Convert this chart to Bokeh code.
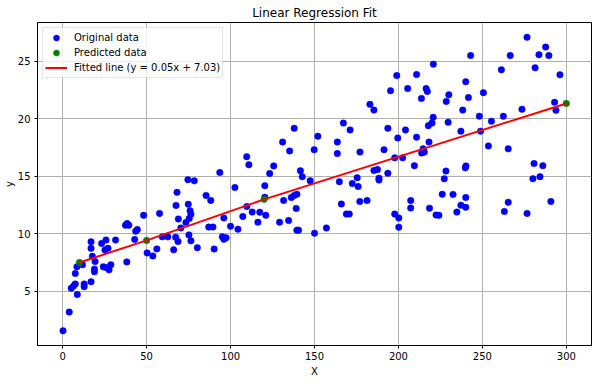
from bokeh.plotting import figure
from bokeh.models import FixedTicker
from bokeh.embed import file_html
from bokeh.resources import INLINE

x_orig = [0.2, 3.9, 5.1, 6.5, 7.5, 7.5, 8.5, 8.7, 11.8, 12.8,
          12.8, 16.9, 16.9, 16.9, 17.7, 19.3, 18.9, 18.9, 24.2, 25.8,
          27.6, 28.7, 23.2, 25.8, 27.0, 25.2, 31.5, 37.4, 39.4, 38.4,
          44.5, 43.5, 42.9, 48.2, 38.2, 50.3, 53.7, 56.1, 57.7, 59.3,
          62.6, 66.1, 67.3, 68.7, 68.1, 67.5, 68.9, 70.4, 74.6, 78.4,
          74.8, 75.9, 76.4, 73.4, 75.4, 75.2, 76.4, 80.2, 85.4, 88.2,
          87.0, 89.5, 90.2, 93.6, 95.1, 96.0, 97.3, 96.0, 100.0, 102.6,
          104.4, 107.3, 109.6, 110.9, 109.7, 112.9, 116.3, 117.4, 121.0, 120.4,
          120.4, 123.3, 125.7, 129.2, 131.0, 131.6, 135.2, 134.6, 137.9, 136.2,
          137.9, 139.5, 139.1, 139.5, 140.5, 141.6, 142.7, 147.4, 149.8, 150.0,
          152.0, 157.1, 163.6, 163.6, 164.8, 167.2, 171.2, 166.0, 169.0, 170.7,
          172.5, 175.4, 176.0, 177.1, 177.0, 181.3, 183.0, 185.4, 185.4, 187.5,
          188.4, 188.4, 191.4, 193.7, 193.7, 195.3, 199.0, 197.8, 199.6, 202.5,
          197.8, 200.2, 200.2, 204.2, 205.5, 209.5, 207.3, 207.3, 210.8, 210.8,
          213.7, 213.8, 214.7, 215.4, 216.5, 217.2, 218.2, 217.8, 220.0, 220.7,
          220.8, 218.5, 222.4, 224.1, 226.1, 227.3, 228.3, 228.5, 230.0, 229.6,
          232.5, 234.8, 237.2, 240.1, 240.1, 237.2, 238.3, 240.1, 241.7, 243.0,
          239.8, 240.2, 248.2, 248.9, 250.6, 253.6, 255.4, 261.3, 262.5, 265.4,
          266.6, 263.1, 265.4, 273.6, 276.6, 276.6, 281.4, 280.8, 286.0, 280.1,
          284.3, 283.7, 289.6, 287.7, 290.8, 293.0, 293.8, 296.2]

y_orig = [1.56, 3.19, 5.26, 5.46, 5.63, 6.55, 7.12, 4.71, 7.3, 5.4,
          5.63, 5.83, 9.3, 8.73, 8.04, 7.58, 6.92, 6.69, 7.12, 7.07,
          6.86, 7.3, 9.16, 9.45, 8.73, 8.59, 9.45, 10.74, 10.74, 10.88,
          10.37, 10.22, 9.5, 11.6, 7.55, 8.33, 8.07, 8.68, 11.77, 9.73,
          9.73, 8.6, 9.7, 9.33, 13.6, 12.46, 11.28, 10.5, 14.7, 14.6,
          12.57, 12.0, 11.7, 10.98, 11.33, 9.9, 9.38, 8.79, 13.33, 12.9,
          10.58, 10.58, 8.67, 15.33, 9.73, 9.52, 9.65, 11.37, 10.65, 14.02,
          10.4, 11.5, 16.7, 16.0, 12.37, 11.88, 11.0, 11.87, 11.6, 13.17,
          14.18, 15.24, 15.9, 11.0, 17.97, 12.9, 17.2, 11.15, 19.17, 13.15,
          13.32, 13.44, 12.2, 10.31, 10.31, 15.48, 14.96, 14.61, 17.31, 10.05,
          18.48, 10.5, 17.97, 16.97, 14.53, 19.62, 19.03, 12.58, 11.71, 11.71,
          14.36, 14.87, 14.1, 17.1, 12.8, 12.89, 21.25, 20.75, 15.5, 15.58,
          14.83, 14.67, 17.31, 15.26, 19.17, 22.44, 23.75, 16.6, 18.33, 16.6,
          11.71, 11.37, 10.57, 19.03, 22.62, 15.92, 12.88, 12.23, 23.84, 18.4,
          21.77, 17.02, 17.39, 17.1, 22.62, 22.38, 17.97, 19.4, 19.62, 20.12,
          24.75, 12.22, 11.63, 11.6, 13.43, 14.78, 15.45, 21.51, 22.08, 19.69,
          13.42, 11.88, 12.48, 12.3, 13.15, 18.92, 20.75, 23.22, 21.84, 25.49,
          15.73, 15.9, 20.22, 18.92, 22.27, 17.63, 19.78, 24.25, 20.21, 17.38,
          25.49, 11.94, 12.73, 20.82, 27.09, 11.77, 24.43, 16.1, 15.92, 14.79,
          14.96, 25.57, 25.49, 26.23, 12.81, 21.43, 20.73, 23.82]

x_pred = [10, 50, 120, 300]
y_pred = [7.50, 9.42, 12.99, 21.33]

line_label = "Fitted line (y = 0.05x + 7.03)"
x_ticks = [0, 50, 100, 150, 200, 250, 300]
y_ticks = [5, 10, 15, 20, 25]

FONT = "DejaVu Sans"

p = figure(width=592, height=379, x_range=(-15, 315), y_range=(0.28, 28.37),
           output_backend="svg", toolbar_location=None,
           title="Linear Regression Fit",
           min_border_left=0, min_border_right=1, min_border_top=0, min_border_bottom=0)

p.scatter(x_orig, y_orig, size=6.5, fill_color="blue", line_color="blue",
          line_width=0.5, legend_label="Original data")
p.scatter(x_pred, y_pred, size=6.5, fill_color="green", line_color="green",
          line_width=0.5, legend_label="Predicted data")
p.line(x_pred, y_pred, line_color="red", line_width=2, legend_label=line_label)

p.title.text_font = FONT
p.title.text_font_size = "12px"
p.title.text_font_style = "normal"
p.title.text_color = "black"
p.title.align = "center"
p.title.standoff = 6

for ax in (p.xaxis[0], p.yaxis[0]):
    ax.axis_line_color = "black"
    ax.major_tick_line_color = "black"
    ax.major_tick_out = 3
    ax.major_tick_in = 0
    ax.minor_tick_line_color = None
    ax.major_label_text_font = FONT
    ax.major_label_text_font_size = "10px"
    ax.major_label_text_color = "black"
    ax.axis_label_text_font = FONT
    ax.axis_label_text_font_size = "10px"
    ax.axis_label_text_font_style = "normal"
    ax.axis_label_text_color = "black"

p.xaxis.ticker = FixedTicker(ticks=x_ticks)
p.yaxis.ticker = FixedTicker(ticks=y_ticks)
p.xaxis.axis_label = "X"
p.yaxis.axis_label = "y"
p.xaxis.major_label_standoff = 3
p.yaxis.major_label_standoff = 4
p.xaxis.axis_label_standoff = 3
p.yaxis.axis_label_standoff = 0

p.xgrid.grid_line_color = "#b0b0b0"
p.ygrid.grid_line_color = "#b0b0b0"
p.xgrid.grid_line_width = 1
p.ygrid.grid_line_width = 1

p.outline_line_color = "black"
p.outline_line_width = 1
p.outline_line_alpha = 1

lg = p.legend[0]
lg.location = "top_left"
lg.margin = 5
lg.padding = 2
lg.spacing = 0
lg.label_height = 15
lg.glyph_height = 15
lg.glyph_width = 22
lg.label_standoff = 7
lg.border_line_color = "#cccccc"
lg.border_line_width = 1
lg.background_fill_alpha = 0.8
lg.label_text_font = FONT
lg.label_text_font_size = "10px"
lg.label_text_color = "black"

open("out.html", "w").write(file_html(p, INLINE))
